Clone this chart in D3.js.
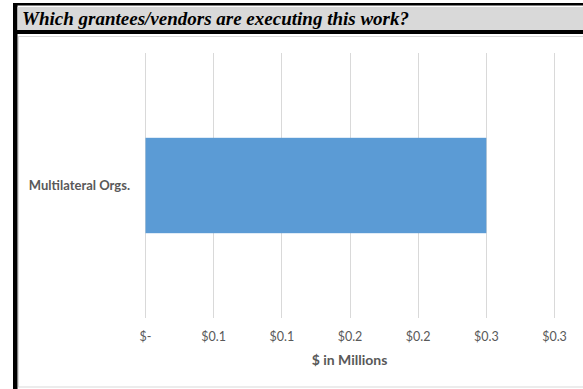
<!DOCTYPE html>
<html>
<head>
<meta charset="utf-8">
<script src="https://cdn.jsdelivr.net/npm/d3@7"></script>
<style>
  html, body { margin: 0; padding: 0; background: #ffffff; }
  svg { display: block; }
</style>
</head>
<body>
<svg id="chart" width="583" height="389"></svg>
<script>
// Funding by grantee / vendor type, in $ millions
const categories = ["Multilateral Orgs."];
const amounts = [0.25];
const tickValues = [0, 0.05, 0.1, 0.15, 0.2, 0.25, 0.3];
const tickLabels = ["$-", "$0.1", "$0.1", "$0.2", "$0.2", "$0.3", "$0.3"];
const titleText = "Which grantees/vendors are executing this work?";
const axisTitle = "$ in Millions";

const svg = d3.select("#chart");
const W = 583, H = 389;
const sans = "Lato, 'Open Sans', 'Liberation Sans', sans-serif";

// Panel frame: black rules and grey heading band
svg.append("rect").attr("x", 13).attr("y", 3).attr("width", W - 13).attr("height", 2.5).attr("fill", "#000");
svg.append("rect").attr("x", 13).attr("y", 3).attr("width", 4.5).attr("height", H - 3).attr("fill", "#000");
svg.append("rect").attr("x", 17.5).attr("y", 7).attr("width", W - 17.5).attr("height", 23).attr("fill", "#d9d9d9");
svg.append("rect").attr("x", 13).attr("y", 30).attr("width", W - 13).attr("height", 4).attr("fill", "#000");

svg.append("text")
  .attr("x", 22).attr("y", 24.5)
  .attr("font-family", "'Liberation Serif', 'Times New Roman', serif")
  .attr("font-weight", "bold").attr("font-style", "italic")
  .attr("font-size", 18.5).attr("fill", "#000")
  .attr("textLength", 387).attr("lengthAdjust", "spacingAndGlyphs")
  .text(titleText);

// Chart area outline
svg.append("rect")
  .attr("x", 18.5).attr("y", 36.5).attr("width", W).attr("height", 350.5)
  .attr("fill", "#fff").attr("stroke", "#d9d9d9").attr("stroke-width", 1);

// Scales
const x = d3.scaleLinear().domain([0, 0.3]).range([145, 554]);
const y = d3.scaleBand().domain(categories).range([53, 318]).paddingInner(0.64).paddingOuter(0.32);

// Vertical gridlines
svg.append("g").selectAll("line").data(tickValues).join("line")
  .attr("x1", d => Math.round(x(d)) + 0.5).attr("x2", d => Math.round(x(d)) + 0.5)
  .attr("y1", 53).attr("y2", 318)
  .attr("stroke", "#d9d9d9").attr("stroke-width", 1);

// Bars
svg.append("g").selectAll("rect").data(amounts).join("rect")
  .attr("x", x(0) + 0.5)
  .attr("y", (d, i) => y(categories[i]))
  .attr("width", d => x(d) - x(0))
  .attr("height", y.bandwidth())
  .attr("fill", "#5b9bd5");

// Bottom axis (labels only)
const xAxis = d3.axisBottom(x)
  .tickValues(tickValues)
  .tickFormat((d, i) => tickLabels[i])
  .tickSize(0).tickPadding(0);
const gx = svg.append("g").attr("transform", "translate(0,332)").call(xAxis);
gx.select(".domain").remove();
gx.selectAll("text")
  .attr("font-family", sans).attr("font-size", 12.5).attr("fill", "#595959")
  .attr("dy", "0.71em");

svg.append("text")
  .attr("x", (x(0) + x(0.3)) / 2).attr("y", 365)
  .attr("text-anchor", "middle")
  .attr("font-family", sans).attr("font-weight", "bold").attr("font-size", 14)
  .attr("fill", "#595959")
  .text(axisTitle);

// Category axis (labels only)
const yAxis = d3.axisLeft(y).tickSize(0).tickPadding(15);
const gy = svg.append("g").attr("transform", `translate(${x(0)},0)`).call(yAxis);
gy.select(".domain").remove();
gy.selectAll("text")
  .attr("font-family", sans).attr("font-weight", "bold").attr("font-size", 13)
  .attr("fill", "#595959");
</script>
</body>
</html>
